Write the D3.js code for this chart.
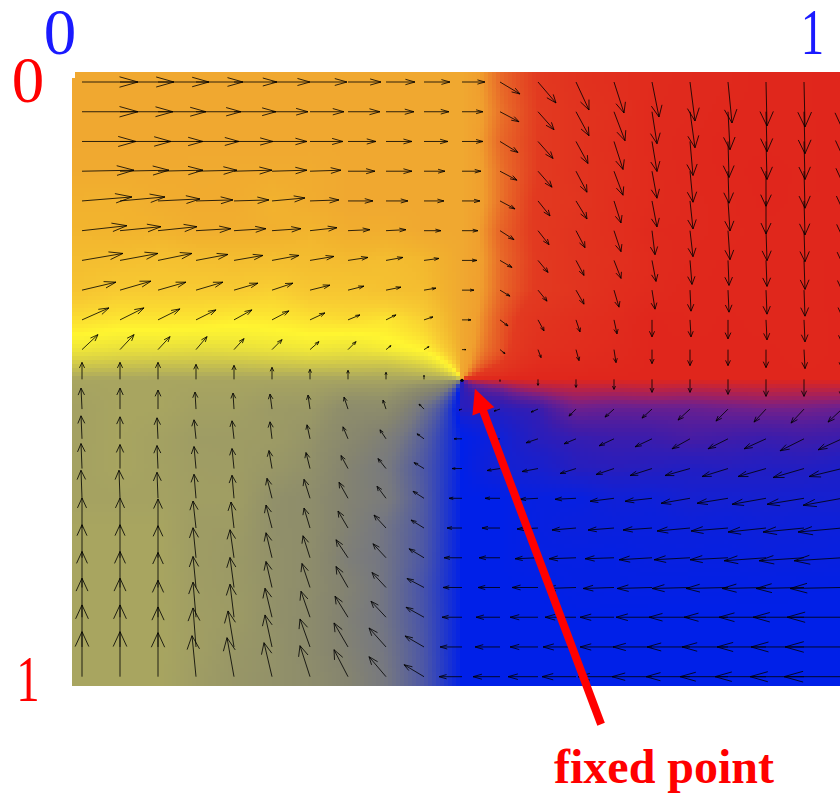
<!DOCTYPE html>
<html>
<head>
<meta charset="utf-8">
<script src="https://cdn.jsdelivr.net/npm/d3@7/dist/d3.min.js"></script>
<style>html,body{margin:0;padding:0;background:#fff;overflow:hidden}svg{display:block}</style>
</head>
<body>
<div id="chart"></div>
<script>
// Vector components, one row per grid row (21 columns, 21 rows).
const dxRows = [
[56,54,51,47,43,38,37,33,29,26,23,20,18,13,10,7,5,4,1,1,0],
[56,53,48,45,42,36,34,32,28,25,21,19,16,13,11,5,5,2,1,1,0],
[54,51,45,43,39,35,33,28,26,24,21,18,15,12,9,5,3,1,1,1,0],
[52,49,45,41,38,35,31,27,26,21,19,17,14,11,9,5,3,1,0,1,0],
[50,45,42,37,35,33,29,25,22,20,18,15,12,11,7,5,3,2,0,1,0],
[45,41,39,35,32,29,27,22,20,17,16,14,11,9,7,3,3,2,1,1,0],
[41,38,34,32,29,27,24,20,17,15,15,12,10,8,7,4,2,1,1,1,0],
[34,31,28,27,24,21,20,16,15,12,12,10,9,8,5,3,1,1,1,1,0],
[27,24,22,20,18,17,15,12,10,9,9,8,6,4,3,0,1,0,1,1,0],
[16,14,12,11,10,10,9,8,5,5,4,5,3,3,2,0,0,0,0,1,0],
[0,0,0,0,0,0,0,0,0,0,0,0,0,0,0,0,0,0,0,0,0],
[-1,0,0,-1,-1,-2,-2,-4,-3,-5,-3,-6,-7,-7,-9,-10,-12,-12,-12,-13,-14],
[-1,0,-1,-2,-2,-2,-3,-5,-6,-7,-8,-9,-12,-12,-15,-17,-18,-20,-22,-24,-24],
[-1,0,-1,-2,-2,-3,-4,-7,-8,-10,-10,-13,-16,-16,-18,-22,-25,-26,-28,-31,-33],
[-1,-1,-1,-2,-2,-5,-6,-9,-9,-11,-13,-15,-18,-21,-24,-27,-29,-31,-34,-37,-39],
[0,0,0,-3,-3,-6,-6,-10,-12,-13,-15,-18,-21,-24,-26,-29,-33,-37,-38,-41,-44],
[0,0,0,-3,-4,-6,-7,-12,-13,-15,-18,-21,-23,-27,-29,-33,-36,-38,-42,-45,-48],
[0,0,0,-3,-4,-6,-8,-12,-14,-17,-19,-22,-26,-30,-31,-35,-38,-42,-44,-48,-52],
[0,0,0,-3,-4,-7,-9,-13,-15,-18,-20,-24,-28,-31,-34,-36,-41,-44,-47,-51,-55],
[0,0,0,-3,-6,-7,-10,-14,-17,-19,-22,-25,-28,-33,-34,-39,-43,-46,-49,-53,-57],
[0,0,0,-4,-7,-8,-10,-14,-17,-20,-23,-27,-30,-34,-36,-40,-44,-48,-51,-54,-58]
];
const dyRows = [
[0,0,0,0,0,0,0,0,0,0,0,12,21,28,31,35,39,41,44,45,46],
[0,0,0,0,0,0,0,0,0,0,0,10,18,24,29,32,36,38,40,42,43],
[0,0,0,0,0,0,0,0,0,0,0,11,17,22,28,30,34,36,38,38,40],
[-1,-1,-1,-1,-1,-1,-1,0,0,0,0,9,16,21,24,27,31,32,35,37,37],
[-4,-4,-2,-1,-1,-3,-1,0,0,0,0,8,15,18,22,26,28,30,33,34,35],
[-5,-4,-4,-2,-2,-2,-3,-1,-1,0,0,9,14,17,21,24,26,29,30,31,32],
[-7,-7,-7,-6,-5,-5,-4,-3,-3,-2,0,7,12,15,18,21,24,25,26,29,30],
[-8,-9,-8,-8,-7,-7,-5,-4,-3,-2,0,6,11,14,17,19,21,22,24,26,26],
[-12,-12,-11,-10,-10,-9,-7,-5,-5,-3,0,6,11,12,14,17,17,19,20,22,23],
[-15,-15,-13,-13,-11,-10,-8,-8,-4,-3,0,4,8,11,13,14,16,16,18,19,19],
[-17,-17,-17,-15,-14,-12,-10,-9,-7,-4,0,2,6,8,10,13,13,15,17,17,18],
[-21,-21,-19,-17,-16,-15,-14,-12,-9,-5,1,2,3,7,8,9,11,12,13,14,13],
[-23,-22,-21,-19,-18,-17,-14,-12,-9,-5,0,1,4,5,7,8,10,10,10,12,11],
[-25,-24,-23,-22,-20,-18,-16,-13,-10,-6,0,2,3,5,6,7,7,8,8,9,8],
[-28,-28,-26,-24,-23,-20,-19,-16,-12,-7,0,0,1,1,3,3,5,5,6,6,7],
[-30,-30,-29,-27,-26,-23,-20,-17,-13,-8,0,0,1,2,2,2,3,3,4,4,4],
[-33,-33,-32,-30,-28,-25,-22,-18,-14,-9,0,0,1,1,1,2,2,2,3,3,3],
[-36,-36,-35,-31,-30,-26,-24,-21,-15,-9,0,0,0,1,1,1,1,1,1,1,1],
[-39,-39,-37,-35,-33,-29,-26,-21,-16,-10,0,0,0,0,0,0,0,0,0,0,0],
[-42,-42,-40,-39,-36,-32,-28,-24,-19,-11,0,0,0,0,0,0,0,0,0,0,0],
[-45,-45,-44,-41,-39,-34,-31,-27,-20,-12,0,0,0,0,0,0,0,0,0,0,0]
];
// Direction of the field (degrees, clockwise from "right") mapped to background colour.
const wheelAngles = [-180,-150,-130,-117,-105,-90,-60,-32,-17,-10,-6,0,15,31,49,90,120,133,153,164,171,180];
const wheelColors = ["#0020e8","#4a55a8","#767880","#85846f","#908f6a","#a8a560","#d4cc48","#fff530","#f8cc32","#f4be30","#f2b42e","#f0a830","#f09f2e","#e86a28","#e23a20","#e0261c","#9a2066","#72208a","#401ca8","#221ec2","#1420d2","#0020e8"];
const xAxisLabels = ["0","1"];
const yAxisLabels = ["0","1"];
const annotationText = "fixed point";
const fixedPoint = [0.5,0.5];
const pointerFrom = [0.683,1.08];
const pointerTo = [0.517,0.516];

const W = 840, H = 794;
const x = d3.scaleLinear().domain([0,1]).range([82,842]);
const y = d3.scaleLinear().domain([0,1]).range([82,676.7]);
const vec = d3.scaleLinear().domain([0,100]).range([0,100]);
const wheel = d3.scaleLinear().domain(wheelAngles).range(wheelColors).interpolate(d3.interpolateRgb).clamp(true);

const svg = d3.select("#chart").append("svg").attr("width",W).attr("height",H).attr("viewBox",`0 0 ${W} ${H}`);

// Background raster: colour of the field direction, sampled between the read vectors
const n = dxRows.length - 1;
function sample(rows,u,v){
  const a = Math.max(0,Math.min(n,u*n)), b = Math.max(0,Math.min(n,v*n));
  const i = Math.min(n-1,Math.floor(a)), j = Math.min(n-1,Math.floor(b));
  const s = a-i, t = b-j;
  return rows[j][i]*(1-s)*(1-t)+rows[j][i+1]*s*(1-t)+rows[j+1][i]*(1-s)*t+rows[j+1][i+1]*s*t;
}
const cellSize = 4, bgLeft = 72, bgRight = 840, bgTop = 72, bgBottom = 686;
const cells = [];
for(let py=bgTop; py<bgBottom; py+=cellSize){
  for(let px=bgLeft; px<bgRight; px+=cellSize){
    const u = x.invert(px+cellSize/2), v = y.invert(py+cellSize/2);
    const dx = sample(dxRows,u,v), dy = sample(dyRows,u,v);
    cells.push({px,py,c:wheel(Math.atan2(dy,dx)*180/Math.PI)});
  }
}
svg.append("clipPath").attr("id","bgClip").append("polygon")
  .attr("points",[[75,bgTop],[bgRight,bgTop],[bgRight,bgBottom],[bgLeft,bgBottom],[bgLeft,78],[75,78]].map(p=>p.join(",")).join(" "));
svg.append("g").attr("clip-path","url(#bgClip)").attr("shape-rendering","crispEdges").selectAll("rect").data(cells).join("rect")
  .attr("x",d=>d.px).attr("y",d=>d.py).attr("width",cellSize).attr("height",cellSize).attr("fill",d=>d.c);

// Arrows: the head is built in the unstretched plot space, so it widens with the axes' aspect
const vectors = [];
dxRows.forEach((row,j)=>row.forEach((dx,i)=>{
  if(dx===0 && dyRows[j][i]===0) return;
  vectors.push({u:i/n,v:j/n,dx,dy:dyRows[j][i]});
}));
const alpha = 0.33, beta = 0.36;
const aspect = (x(1)-x(0))/(y(1)-y(0));
function arrowPath(d){
  const x0=x(d.u), y0=y(d.v), vx=vec(d.dx), vy=vec(d.dy);
  const x1=x0+vx, y1=y0+vy;
  const p=d3.path();
  p.moveTo(x0,y0); p.lineTo(x1,y1);
  p.moveTo(x1-alpha*(vx+aspect*beta*vy), y1-alpha*(vy-beta*vx/aspect));
  p.lineTo(x1,y1);
  p.lineTo(x1-alpha*(vx-aspect*beta*vy), y1-alpha*(vy+beta*vx/aspect));
  return p.toString();
}
svg.append("g").selectAll("path").data(vectors).join("path")
  .attr("d",arrowPath).attr("fill","none").attr("stroke","#000").attr("stroke-width",0.9).attr("stroke-opacity",0.9);

svg.append("circle").attr("cx",x(fixedPoint[0])).attr("cy",y(fixedPoint[1])+1).attr("r",1.7).attr("fill","#000");

// Pointer to the fixed point
const tx=x(pointerTo[0]), ty=y(pointerTo[1]), fx=x(pointerFrom[0]), fy=y(pointerFrom[1]);
const len=Math.hypot(tx-fx,ty-fy), ux=(tx-fx)/len, uy=(ty-fy)/len;
const headLen=24, headHalf=11.7;
svg.append("line").attr("x1",fx).attr("y1",fy).attr("x2",tx-ux*headLen+ux).attr("y2",ty-uy*headLen+uy)
  .attr("stroke","#ff0000").attr("stroke-width",8);
svg.append("polygon").attr("fill","#ff0000").attr("points",[
  [tx,ty],
  [tx-ux*headLen-uy*headHalf, ty-uy*headLen+ux*headHalf],
  [tx-ux*headLen+uy*headHalf, ty-uy*headLen-ux*headHalf]
].map(p=>p.join(",")).join(" "));

// Labels
const serif = "'Liberation Serif','Times New Roman',serif";
const lab = svg.append("g").attr("font-family",serif).attr("font-size",65).attr("text-anchor","middle");
lab.append("text").attr("x",60).attr("y",53.5).attr("fill","#1a1aff").text(xAxisLabels[0]);
lab.append("text").attr("transform","translate(812.5,53.5) scale(0.72,1)").attr("fill","#1a1aff").text(xAxisLabels[1]);
lab.append("text").attr("x",28).attr("y",101.5).attr("fill","#ff0000").text(yAxisLabels[0]);
lab.append("text").attr("transform","translate(28,700.5) scale(0.72,1)").attr("fill","#ff0000").text(yAxisLabels[1]);
svg.append("text").attr("font-family",serif).attr("x",554).attr("y",783).attr("font-size",48).attr("font-weight","bold").attr("fill","#ff0000").text(annotationText);
</script>
</body>
</html>
